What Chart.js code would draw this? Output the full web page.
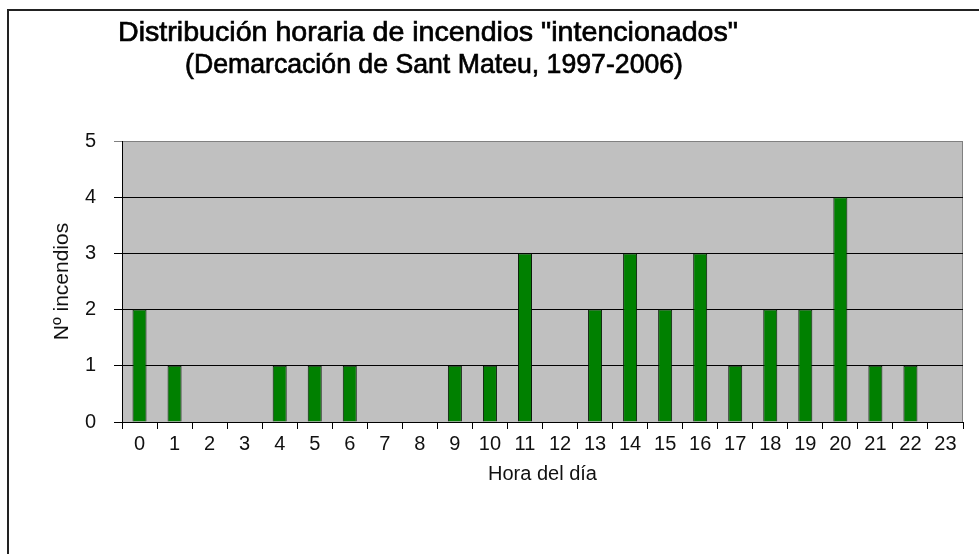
<!DOCTYPE html>
<html>
<head>
<meta charset="utf-8">
<script src="https://cdn.jsdelivr.net/npm/chart.js@4.4.0/dist/chart.umd.min.js"></script>
<style>
  html, body { margin: 0; padding: 0; background: #ffffff; }
  canvas { display: block; }
</style>
</head>
<body>
<canvas id="c" width="979" height="554"></canvas>
<script>
const categories = ['0','1','2','3','4','5','6','7','8','9','10','11','12','13','14','15','16','17','18','19','20','21','22','23'];
const fireCounts = [2,1,0,0,1,1,1,0,0,1,1,3,0,2,3,2,3,1,2,2,4,1,1,0];
const yTicks = [0,1,2,3,4,5];
const titleLines = ['Distribución horaria de incendios "intencionados"', '(Demarcación de Sant Mateu, 1997-2006)'];
const xTitle = 'Hora del día';
const yTitle = 'Nº incendios';

const FONT = '"Liberation Sans", Arial, sans-serif';

function condensedText(ctx, text, cx, cy, targetWidth) {
  const w = ctx.measureText(text).width;
  const sx = targetWidth / w;
  ctx.save();
  ctx.translate(cx, cy);
  ctx.scale(sx, 1);
  ctx.fillText(text, 0, 0);
  ctx.strokeText(text, 0, 0);
  ctx.restore();
}

const decor = {
  id: 'decor',
  beforeDraw(chart) {
    const {ctx, chartArea: a} = chart;
    ctx.save();
    ctx.fillStyle = '#ffffff';
    ctx.fillRect(0, 0, chart.width, chart.height);
    ctx.strokeStyle = '#222222';
    ctx.lineWidth = 2;
    ctx.beginPath();
    ctx.moveTo(8, chart.height + 5);
    ctx.lineTo(8, 10);
    ctx.lineTo(chart.width + 5, 10);
    ctx.stroke();
    ctx.fillStyle = '#c0c0c0';
    ctx.fillRect(a.left, a.top, a.right - a.left, a.bottom - a.top);
    ctx.strokeStyle = '#808080';
    ctx.lineWidth = 1;
    ctx.beginPath();
    ctx.moveTo(a.left, a.top + 0.5);
    ctx.lineTo(a.right - 0.5, a.top + 0.5);
    ctx.lineTo(a.right - 0.5, a.bottom);
    ctx.stroke();
    ctx.fillStyle = '#000000';
    ctx.strokeStyle = '#000000';
    ctx.lineWidth = 0.7;
    ctx.textAlign = 'center';
    ctx.textBaseline = 'middle';
    ctx.font = '28px ' + FONT;
    condensedText(ctx, titleLines[0], 428, 33, 620);
    condensedText(ctx, titleLines[1], 434, 65, 498);
    ctx.restore();
  }
};

new Chart(document.getElementById('c'), {
  type: 'bar',
  data: {
    labels: categories,
    datasets: [{
      data: fireCounts,
      backgroundColor: '#008000',
      borderColor: '#0a1a0a',
      borderWidth: 1,
      barPercentage: 0.4,
      categoryPercentage: 1.0
    }]
  },
  options: {
    responsive: false,
    animation: false,
    layout: { padding: { top: 141, right: 16, left: 0, bottom: 0 } },
    plugins: { legend: { display: false }, title: { display: false }, tooltip: { enabled: false } },
    scales: {
      x: {
        offset: true,
        grid: { offset: true, drawOnChartArea: false, drawTicks: true, tickLength: 7, color: '#000000', lineWidth: 1 },
        border: { display: true, color: '#000000', width: 1 },
        ticks: { color: '#111111', font: { family: FONT, size: 20 }, padding: 3, autoSkip: false, maxRotation: 0 },
        title: { display: true, text: xTitle, color: '#111111', font: { family: FONT, size: 20 }, padding: { top: 0, bottom: 68 } },
        afterFit(s) { s.height = 132; }
      },
      y: {
        min: 0, max: 5,
        afterBuildTicks(s) { s.ticks = yTicks.map(v => ({ value: v })); },
        grid: {
          drawTicks: true, tickLength: 8, lineWidth: 1,
          color: (c) => (c.tick && c.tick.value === 5 ? '#808080' : '#000000')
        },
        border: { display: true, color: '#000000', width: 1 },
        ticks: { color: '#111111', font: { family: FONT, size: 20 }, padding: 18 },
        title: { display: true, text: yTitle, color: '#111111', font: { family: FONT, size: 21 }, padding: { top: 50, bottom: 0 } },
        afterFit(s) { s.width = 122; }
      }
    }
  },
  plugins: [decor]
});
</script>
</body>
</html>
